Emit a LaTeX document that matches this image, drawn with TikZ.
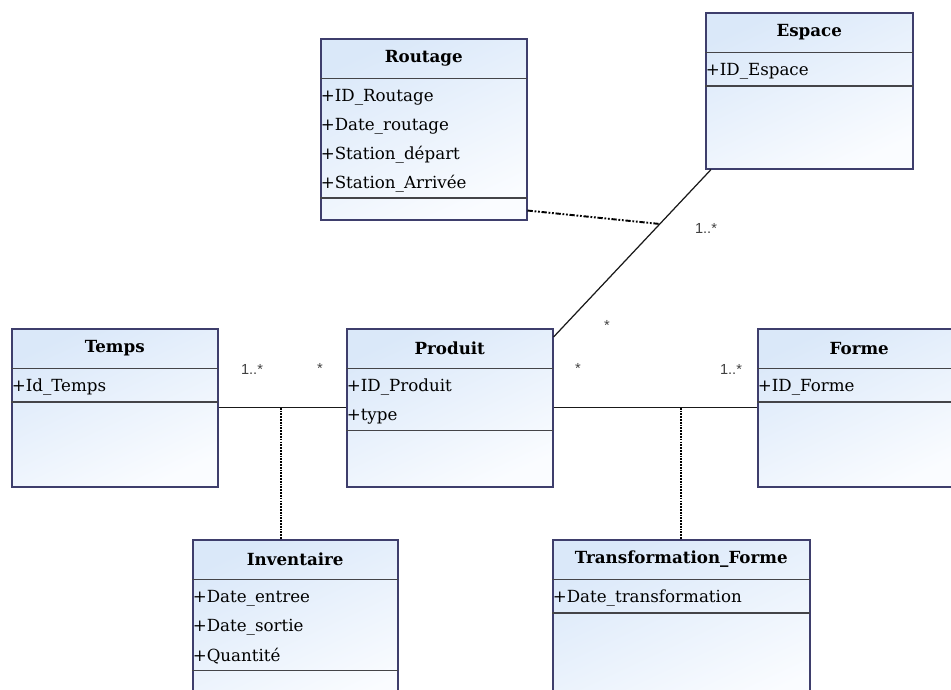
\documentclass[tikz,border=0pt]{standalone}
\usepackage{fontspec}
\setmainfont{DejaVu Serif}
\newfontfamily\multfont{Liberation Sans}
\usepackage{xcolor}
\usepackage{tikz}
\usetikzlibrary{positioning, calc}
\definecolor{clsborder}{RGB}{62,62,108}
\definecolor{clsline}{RGB}{68,68,72}
\definecolor{clstop}{RGB}{218,232,249}
\definecolor{clsbottom}{RGB}{250,252,255}

\begin{document}
\begin{tikzpicture}[
    x=0.02cm, y=-0.02cm,
    classbox/.style={draw=clsborder, line width=0.9pt, top color=clstop, bottom color=clsbottom, shading angle=25, inner sep=0pt, anchor=north west},
    classtitle/.style={minimum width=#1, minimum height=0.8cm, inner sep=0pt, font=\fontsize{9.5}{11}\selectfont\bfseries},
    attr/.style={text width=#1, align=left, minimum height=0.56cm, inner sep=0pt, font=\fontsize{9.5}{11}\selectfont},
    sepline/.style={draw=clsline, line width=0.9pt},
    assoc/.style={draw=black!90, line width=0.7pt},
    assocdot/.style={draw=black, line width=1.4pt, dash pattern=on 1pt off 0.6pt},
    routdash/.style={draw=black, line width=1.1pt, dash pattern=on 3pt off 1pt on 1pt off 1pt on 1pt off 1pt},
    mult/.style={font=\multfont\fontsize{8.3}{10}\selectfont, inner sep=0pt, anchor=base, text=black!75}
]
\useasboundingbox (0,0) rectangle (951,690);
\clip (0,0) rectangle (951,690);

% Routage
\node[classbox, minimum width=4.12cm, minimum height=3.62cm] (routage) at (320,38) {};
\node[classtitle=4.12cm, below=0pt of routage.north] (routageT) {Routage};
\node[attr=4.12cm, below=0.09cm of routageT] (routageA1) {+ID\_Routage};
\node[attr=4.12cm, below=0pt of routageA1] (routageA2) {+Date\_routage};
\node[attr=4.12cm, below=0pt of routageA2] (routageA3) {+Station\_départ};
\node[attr=4.12cm, below=0pt of routageA3] (routageA4) {+Station\_Arrivée};
\draw[sepline] (routageT.south west) -- (routageT.south east);
\draw[sepline] (routageA4.south west) -- (routageA4.south east);

% Espace
\node[classbox, minimum width=4.14cm, minimum height=3.12cm] (espace) at (705,12) {};
\node[classtitle=4.14cm, below=0pt of espace.north] (espaceT) {Espace};
\node[attr=4.14cm, below=0.09cm of espaceT] (espaceA1) {+ID\_Espace};
\draw[sepline] (espaceT.south west) -- (espaceT.south east);
\draw[sepline] (espaceA1.south west) -- (espaceA1.south east);

% Temps
\node[classbox, minimum width=4.12cm, minimum height=3.16cm] (temps) at (11,328) {};
\node[classtitle=4.12cm, below=0pt of temps.north] (tempsT) {Temps};
\node[attr=4.12cm, below=0.09cm of tempsT] (tempsA1) {+Id\_Temps};
\draw[sepline] (tempsT.south west) -- (tempsT.south east);
\draw[sepline] (tempsA1.south west) -- (tempsA1.south east);

% Produit
\node[classbox, minimum width=4.12cm, minimum height=3.16cm] (produit) at (346,328) {};
\node[classtitle=4.12cm, below=0pt of produit.north] (produitT) {Produit};
\node[attr=4.12cm, below=0.09cm of produitT] (produitA1) {+ID\_Produit};
\node[attr=4.12cm, below=0pt of produitA1] (produitA2) {+type};
\draw[sepline] (produitT.south west) -- (produitT.south east);
\draw[sepline] (produitA2.south west) -- (produitA2.south east);

% Forme
\node[classbox, minimum width=4.06cm, minimum height=3.16cm] (forme) at (757,328) {};
\node[classtitle=4.06cm, below=0pt of forme.north] (formeT) {Forme};
\node[attr=4.06cm, below=0.09cm of formeT] (formeA1) {+ID\_Forme};
\draw[sepline] (formeT.south west) -- (formeT.south east);
\draw[sepline] (formeA1.south west) -- (formeA1.south east);

% Inventaire
\node[classbox, minimum width=4.1cm, minimum height=3.42cm] (inventaire) at (192,539) {};
\node[classtitle=4.1cm, below=0pt of inventaire.north] (inventaireT) {Inventaire};
\node[attr=4.1cm, below=0.09cm of inventaireT] (inventaireA1) {+Date\_entree};
\node[attr=4.1cm, below=0pt of inventaireA1] (inventaireA2) {+Date\_sortie};
\node[attr=4.1cm, below=0pt of inventaireA2] (inventaireA3) {+Quantité};
\draw[sepline] (inventaireT.south west) -- (inventaireT.south east);
\draw[sepline] (inventaireA3.south west) -- (inventaireA3.south east);

% Transformation_Forme
\node[classbox, minimum width=5.14cm, minimum height=3.42cm] (transfo) at (552,539) {};
\node[classtitle=5.14cm, below=0pt of transfo.north] (transfoT) {Transformation\_Forme};
\node[attr=5.14cm, below=0.09cm of transfoT] (transfoA1) {+Date\_transformation};
\draw[sepline] (transfoT.south west) -- (transfoT.south east);
\draw[sepline] (transfoA1.south west) -- (transfoA1.south east);

% associations
\draw[assoc] (temps.east) -- (produit.west);
\draw[assoc] (produit.east) -- (forme.west);
\coordinate (invJ) at ($(temps.east)!0.49!(produit.west)$);
\draw[assocdot] (invJ) -- (invJ |- inventaire.north);
\draw[assocdot] (transfo.north |- produit.east) -- (transfo.north);
\coordinate (espA) at ([xshift=0.12cm]espace.south west);
\coordinate (prodB) at ([yshift=-0.18cm]produit.north east);
\draw[assoc] (espA) -- (prodB);
\coordinate (routJ) at ($(espA)!0.325!(prodB)$);
\draw[routdash] ([yshift=0.2cm]routage.south east) -- (routJ);

% multiplicities
\node[mult] (mTempsA) at (252,374) {1..*};
\node[mult] (mTempsB) at (320,373) {*};
\node[mult] (mFormeA) at (578,373) {*};
\node[mult] (mFormeB) at (731,374) {1..*};
\node[mult] (mEspaceA) at (706,233) {1..*};
\node[mult] (mEspaceB) at (607,330) {*};

\end{tikzpicture}
\end{document}
